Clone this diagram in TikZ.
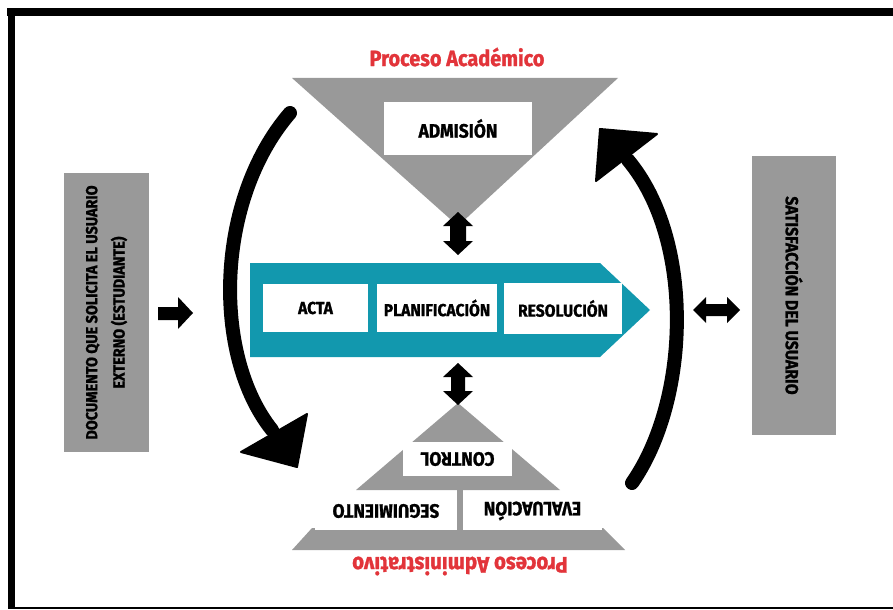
\documentclass[tikz,border=0pt]{standalone}
\usepackage{fontspec}
\setmainfont{Fira Sans}
\newfontfamily\cf[FakeStretch=0.9, BoldFeatures={FakeBold=1.2}]{Fira Sans}
\definecolor{gr}{RGB}{153,153,153}
\definecolor{tl}{RGB}{18,152,174}
\definecolor{rd}{RGB}{226,52,58}
\tikzset{
  wbox/.style={fill=white, inner sep=0pt, text=black, font=\cf\bfseries\fontsize{13}{15}\selectfont},
  wboxb/.style={wbox, font=\cf\bfseries\fontsize{14.5}{16}\selectfont},
  gbox/.style={fill=gr, inner sep=0pt, text=black, align=center, font=\cf\bfseries\fontsize{12}{20.5}\selectfont},
  rlab/.style={text=rd, inner sep=0pt, font=\cf\bfseries\fontsize{16.6}{20}\selectfont},
  bigarrow/.style={line width=10.5pt, line cap=round},
  headfill/.style={fill=black, draw=black, line width=1.5pt, line join=round}
}
\begin{document}
\begin{tikzpicture}[x=0.75pt,y=-0.75pt]
\useasboundingbox (0,0) rectangle (893,610);
% frame
\fill (7,8) rectangle (893,16);
\fill (8,8) rectangle (15,609);
\fill (8,607) rectangle (893,609);

% upper triangle
\fill[gr] (292,78) -- (618,78) -- (458,226) -- cycle;
\node[rlab] (tacad) at (457,57) {Proceso Académico};
\node[wboxb, minimum width=111pt, minimum height=39.75pt] (adm) at (458,128.5) {ADMISIÓN};

% teal process arrow
\fill[tl] (250,263) -- (600,263) -- (650,310) -- (600,357) -- (250,357) -- cycle;
\node[wbox, minimum width=78.75pt, minimum height=36pt] (acta) at (315.5,308) {ACTA};
\node[wbox, minimum width=90pt, minimum height=36pt] (plan) at (437,308) {PLANIFICACIÓN};
\node[wbox, minimum width=88.5pt, minimum height=38pt] (res) at (563,308.5) {RESOLUCIÓN};

% lower pyramid
\fill[gr] (458,403) -- (560,490) -- (356,490) -- cycle;
\fill[gr] (312,528) -- (603,528) -- (625,550) -- (292,550) -- cycle;
\node[wboxb, minimum width=81.75pt, minimum height=25.5pt, rotate=180] (ctrl) at (457.5,459) {CONTROL};
\node[wboxb, minimum width=106.5pt, minimum height=28.5pt, rotate=180] (seg) at (386,511) {SEGUIMIENTO};
\node[wboxb, minimum width=104.25pt, minimum height=28.5pt, rotate=180] (eval) at (532.5,511) {EVALUACIÓN};
\fill[gr] (457,488) rectangle (463,530);
\node[rlab, rotate=180, font=\cf\bfseries\fontsize{17}{20}\selectfont] (tadm) at (460,566) {Proceso Administrativo};

% side boxes
\node[gbox, rotate=90, minimum width=209.25pt, minimum height=63.75pt] (doc) at (106.5,312.5) {DOCUMENTO QUE SOLICITA EL USUARIO\\EXTERNO (ESTUDIANTE)};
\node[gbox, rotate=-90, minimum width=209.25pt, minimum height=63pt, font=\cf\bfseries\fontsize{13.2}{16}\selectfont] (sat) at (794,295.5) {SATISFACCIÓN DEL USUARIO};

% block arrows
\fill (458,212) -- (473,226) -- (466,226) -- (466,241) -- (473,241) -- (458,255) -- (443,241) -- (450,241) -- (450,226) -- (443,226) -- cycle;
\fill (458,363) -- (473,377) -- (465,377) -- (465,391) -- (473,391) -- (458,405) -- (443,391) -- (451,391) -- (451,377) -- (443,377) -- cycle;
\fill (158,307) -- (178,307) -- (178,297) -- (193,313) -- (178,329) -- (178,320) -- (158,320) -- cycle;
\fill (693,310) -- (706,297) -- (706,304) -- (727,304) -- (727,297) -- (740,310) -- (727,323) -- (727,316) -- (706,316) -- (706,323) -- cycle;

% curved arrows
\draw[bigarrow] (290,113) .. controls (215,200) and (212,355) .. (272,430);
\filldraw[headfill] (241,452) -- (307,414) -- (297,467) -- cycle;
\draw[bigarrow] (632,483) .. controls (690,400) and (695,240) .. (628,160);
\filldraw[headfill] (657,134) -- (600,129) -- (596,181) -- cycle;
\end{tikzpicture}
\end{document}
